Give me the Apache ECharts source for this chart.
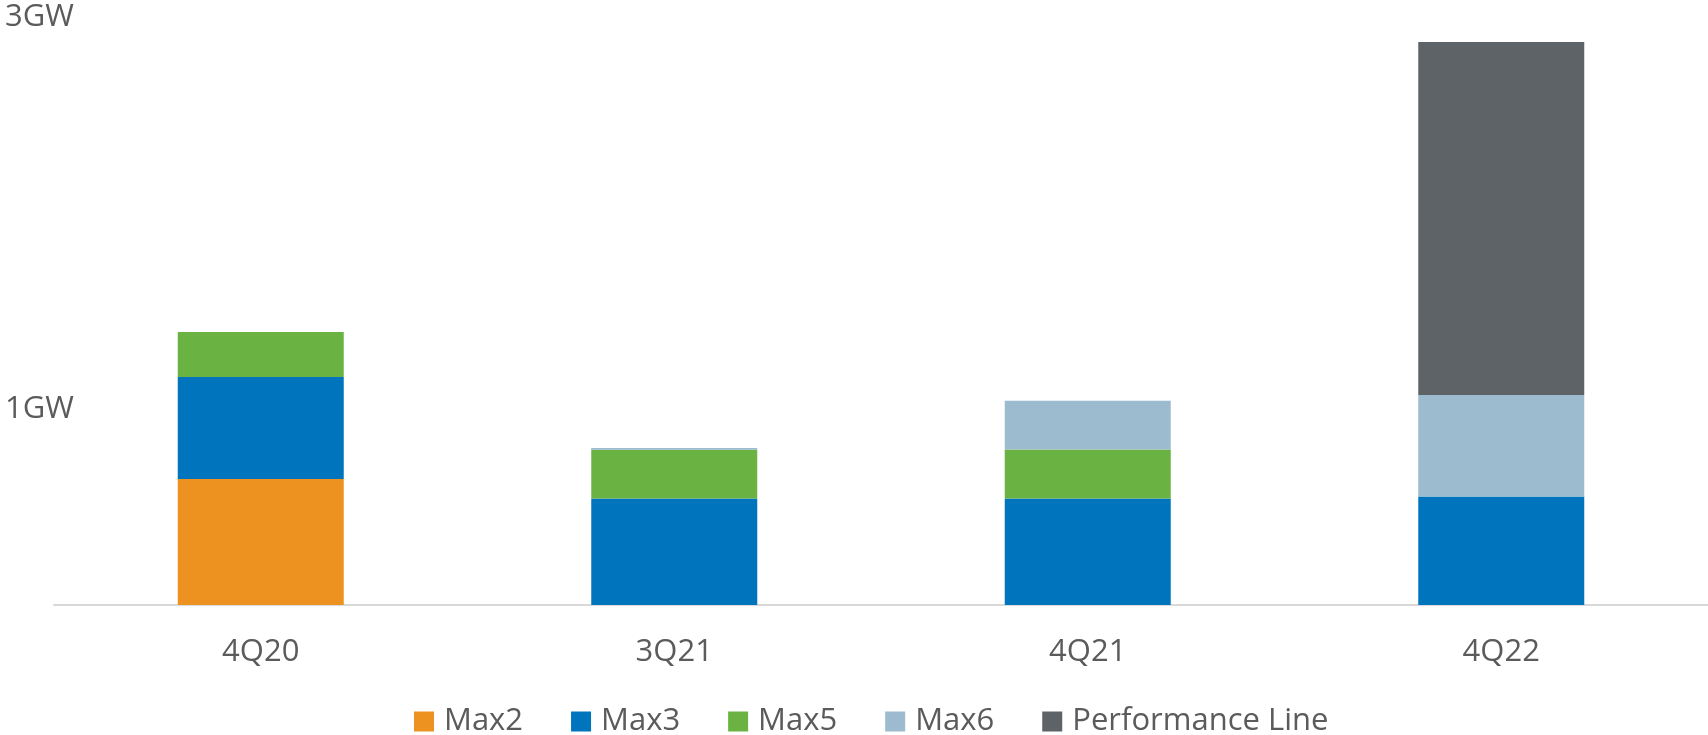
<!DOCTYPE html>
<html>
<head>
<meta charset="utf-8">
<script src="https://cdn.jsdelivr.net/npm/echarts@6/dist/echarts.min.js"></script>
<style>
html,body{margin:0;padding:0;background:#fff;}
#chart{width:1708px;height:735px;}
</style>
</head>
<body>
<div id="chart"></div>
<script>
const categories = ['4Q20', '3Q21', '4Q21', '4Q22'];
const max2 = [0.643, null, null, null];
const max3 = [0.52, 0.544, 0.544, 0.553];
const max5 = [0.23, 0.248, 0.25, null];
const max6 = [null, 0.009, 0.248, 0.519];
const perfLine = [null, null, null, 1.80];
const yTickLabels = { 1: '1GW', 3: '3GW' };

const colors = {
  'Max2': '#ED9220',
  'Max3': '#0075BE',
  'Max5': '#6AB343',
  'Max6': '#9DBBCE',
  'Performance Line': '#5E6367'
};
const seriesData = [
  ['Max2', max2], ['Max3', max3], ['Max5', max5], ['Max6', max6], ['Performance Line', perfLine]
];

const chart = echarts.init(document.getElementById('chart'));
chart.setOption({
  animation: false,
  textStyle: { fontFamily: 'Open Sans' },
  grid: { left: 54, right: 0, top: 17, bottom: 130, containLabel: false },
  legend: {
    left: 409, top: 701,
    itemWidth: 20, itemHeight: 20, itemGap: 48,
    icon: 'rect',
    textStyle: { fontFamily: 'Open Sans', fontSize: 31, color: '#5b5b5b', padding: [0, 0, 0, 5] },
    data: seriesData.map(s => s[0])
  },
  xAxis: {
    type: 'category',
    data: categories,
    axisLine: { lineStyle: { color: '#d9d9d9', width: 2 } },
    axisTick: { show: false },
    axisLabel: { fontFamily: 'Open Sans', fontSize: 31, color: '#5b5b5b', margin: 32 }
  },
  yAxis: {
    type: 'value',
    min: 0, max: 3, interval: 1,
    splitLine: { show: false },
    axisLine: { show: false },
    axisTick: { show: false },
    axisLabel: {
      fontFamily: 'Open Sans', fontSize: 31, color: '#5b5b5b',
      align: 'left', margin: 49,
      formatter: v => yTickLabels[v] || ''
    }
  },
  series: seriesData.map(([name, data]) => ({
    name, type: 'bar', stack: 'total', data,
    barWidth: 166,
    itemStyle: { color: colors[name] }
  }))
});
</script>
</body>
</html>
